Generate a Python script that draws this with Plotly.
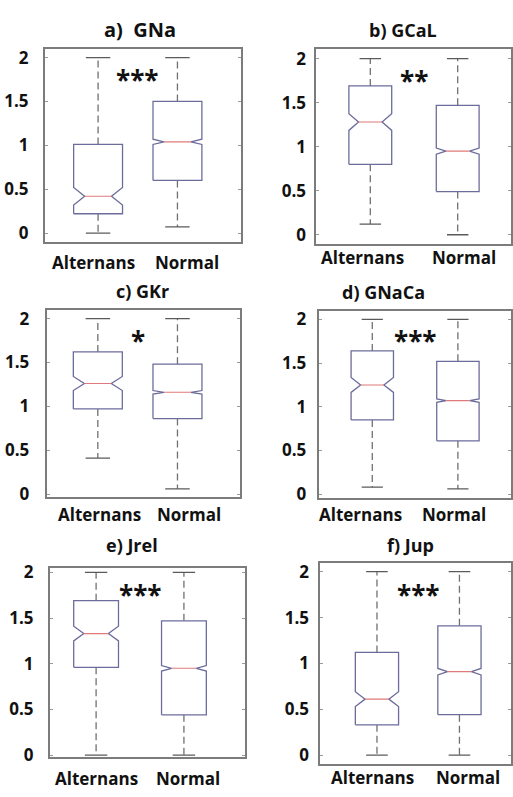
import plotly.graph_objects as go

W, H = 513, 797

GROUPS = ["Alternans", "Normal"]
TITLES = ["a)  GNa", "b) GCaL", "c) GKr", "d) GNaCa", "e) Jrel", "f) Jup"]
SIGNIF = ["***", "**", "*", "***", "***", "***"]
Y_TICKS = [0, 0.5, 1, 1.5, 2]

# per panel: [Alternans, Normal]
LOWER = [[0.00, 0.07], [0.12, 0.00], [0.41, 0.06], [0.08, 0.06], [0.00, 0.00], [0.00, 0.00]]
Q1 = [[0.22, 0.60], [0.80, 0.49], [0.97, 0.86], [0.85, 0.61], [0.96, 0.44], [0.33, 0.44]]
MEDIAN = [[0.42, 1.04], [1.28, 0.95], [1.26, 1.16], [1.25, 1.07], [1.33, 0.95], [0.61, 0.91]]
Q3 = [[1.01, 1.50], [1.69, 1.47], [1.62, 1.48], [1.64, 1.52], [1.69, 1.47], [1.12, 1.41]]
UPPER = [[2.00, 2.00], [2.00, 2.00], [2.00, 2.00], [2.00, 2.00], [2.00, 2.00], [2.00, 2.00]]
NOTCH = [[0.10, 0.03], [0.095, 0.035], [0.08, 0.02], [0.085, 0.02], [0.08, 0.03], [0.08, 0.035]]

# layout of each panel (pixels) and axis ranges
PANELS = [
    dict(px=(45, 241), py=(42, 239.3), xr=(-0.67, 1.795), yr=(-0.104, 2.097), bw=0.616,
         title=(140, 22), ts=20, sx=11, ly=260, lx=(-5, 10)),
    dict(px=(317, 512), py=(42, 240.7), xr=(-0.617, 1.61), yr=(-0.10, 2.108), bw=0.49,
         title=(404, 22), ts=18, sx=5, ly=255, lx=(-8, 6)),
    dict(px=(46.7, 240.7), py=(309, 500), xr=(-0.643, 1.788), yr=(-0.037, 2.093), bw=0.615,
         title=(143, 289), ts=18, sx=12, ly=518, lx=(2, 12)),
    dict(px=(319.3, 512), py=(309.3, 501), xr=(-0.626, 1.62), yr=(-0.048, 2.10), bw=0.495,
         title=(384, 290), ts=18, sx=7, ly=518, lx=(-12, -4)),
    dict(px=(50, 245), py=(572.7, 765), xr=(-0.526, 1.69), yr=(-0.018, 2.043), bw=0.51,
         title=(132, 549), ts=18, sx=11, ly=787, lx=(0, 4)),
    dict(px=(321, 512), py=(567.3, 772.7), xr=(-0.686, 1.625), yr=(-0.10, 2.093), bw=0.524,
         title=(411, 549), ts=18, sx=6, ly=786, lx=(-4, 9)),
]

BOX_COLOR = "#6c6c9c"
MED_COLOR = "#e07a7a"
WHISK_COLOR = "#707070"
CAP_COLOR = "#5a5a5a"
FRAME_COLOR = "#7c7c7c"
FONT = "Open Sans"
TXT = "#111111"

fig = go.Figure()


def notched_outline(i, half, q1, med, q3, ns, indent=0.45):
    inner = half * (1 - indent)
    xs = [i - half, i - half, i - inner, i - half, i - half, i + half, i + half, i + inner, i + half, i + half, i - half]
    ys = [q1, med - ns, med, med + ns, q3, q3, med + ns, med, med - ns, q1, q1]
    return xs, ys


for k, p in enumerate(PANELS):
    n = k + 1
    xa = "x" if n == 1 else f"x{n}"
    ya = "y" if n == 1 else f"y{n}"
    half = p["bw"] / 2
    cap = half * 0.5
    for i in range(len(GROUPS)):
        lo, q1, md, q3, up, ns = LOWER[k][i], Q1[k][i], MEDIAN[k][i], Q3[k][i], UPPER[k][i], NOTCH[k][i]
        # dashed whiskers
        fig.add_trace(go.Scatter(x=[i, i, None, i, i], y=[q3, up, None, q1, lo], mode="lines",
                                 line=dict(color=WHISK_COLOR, width=1.3, dash="7px,4px"),
                                 xaxis=xa, yaxis=ya, hoverinfo="skip", showlegend=False))
        # whisker caps
        fig.add_trace(go.Scatter(x=[i - cap, i + cap, None, i - cap, i + cap], y=[up, up, None, lo, lo], mode="lines",
                                 line=dict(color=CAP_COLOR, width=1.3),
                                 xaxis=xa, yaxis=ya, hoverinfo="skip", showlegend=False))
        # notched box
        bx, by = notched_outline(i, half, q1, md, q3, ns)
        fig.add_trace(go.Scatter(x=bx, y=by, mode="lines", fill="toself", fillcolor="white",
                                 line=dict(color=BOX_COLOR, width=1.3),
                                 xaxis=xa, yaxis=ya, hoverinfo="skip", showlegend=False))
        # median
        inner = half * (1 - 0.45)
        fig.add_trace(go.Scatter(x=[i - inner, i + inner], y=[md, md], mode="lines",
                                 line=dict(color=MED_COLOR, width=1.1),
                                 xaxis=xa, yaxis=ya, hoverinfo="skip", showlegend=False))
        # category label
        fig.add_annotation(xref=xa, yref="paper", x=i, y=1 - p["ly"] / H, xshift=p["lx"][i],
                           text=GROUPS[i], showarrow=False, xanchor="center", yanchor="middle",
                           font=dict(family=FONT, size=17, color=TXT, weight="bold"))

    dom_x = [p["px"][0] / W, p["px"][1] / W]
    dom_y = [1 - p["py"][1] / H, 1 - p["py"][0] / H]
    xkey = "xaxis" if n == 1 else f"xaxis{n}"
    ykey = "yaxis" if n == 1 else f"yaxis{n}"
    fig.update_layout(**{
        xkey: dict(domain=dom_x, range=list(p["xr"]), anchor=ya, tickvals=list(range(len(GROUPS))),
                   ticktext=GROUPS, showticklabels=False, ticks="", showline=True, mirror=True,
                   linecolor=FRAME_COLOR, linewidth=2, showgrid=False, zeroline=False, fixedrange=True),
        ykey: dict(domain=dom_y, range=list(p["yr"]), anchor=xa, tickvals=Y_TICKS,
                   ticks="inside", ticklen=3, tickcolor="#9a9a9a", showline=True, mirror="ticks",
                   linecolor=FRAME_COLOR, linewidth=2, showgrid=False, zeroline=False, fixedrange=True,
                   ticklabelstandoff=p["sx"],
                   tickfont=dict(family=FONT, size=17, color=TXT, weight="bold")),
    })
    fig.add_annotation(xref="paper", yref="paper", x=p["title"][0] / W, y=1 - p["title"][1] / H,
                       text=TITLES[k], showarrow=False, xanchor="center", yanchor="middle",
                       font=dict(family=FONT, size=p["ts"], color=TXT, weight="bold"))
    fig.add_annotation(xref=xa, yref=ya, x=0.5, y=1.75, text=SIGNIF[k], showarrow=False,
                       xanchor="center", yanchor="middle",
                       font=dict(family=FONT, size=26, color=TXT, weight="bold"))

fig.update_layout(width=W, height=H, margin=dict(l=0, r=0, t=0, b=0),
                  paper_bgcolor="white", plot_bgcolor="white", showlegend=False)

fig.write_html("out.html")
